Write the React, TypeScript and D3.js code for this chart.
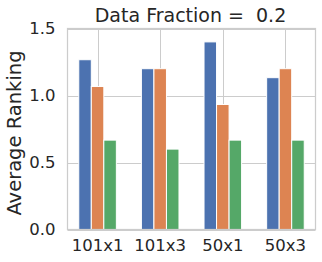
import { useEffect, useRef } from "react";
import * as d3 from "d3";

// values
const categories = ["101x1", "101x3", "50x1", "50x3"];
const seriesA = [1.267, 1.2, 1.4, 1.133];
const seriesB = [1.067, 1.2, 0.933, 1.2];
const seriesC = [0.667, 0.6, 0.667, 0.667];
const yTicks = [0, 0.5, 1.0, 1.5];
const colors = ["#4c72b0", "#dd8452", "#55a868"];

export default function App() {
  const ref = useRef<SVGSVGElement | null>(null);

  useEffect(() => {
    if (!ref.current) return;
    const svg = d3.select(ref.current);
    svg.selectAll("*").remove();
    const m = { left: 67.5, right: 315.5, top: 28.5, bottom: 229.5 };
    const textColor = "#262626";
    const font = "DejaVu Sans, sans-serif";

    // matplotlib-style numeric x: bars span -0.3..3.3, 5% margins
    const x = d3.scaleLinear().domain([-0.48, 3.48]).range([m.left, m.right]);
    const y = d3.scaleLinear().domain([0, 1.5]).range([m.bottom, m.top]);

    // grid
    const grid = svg.append("g").attr("stroke", "#cccccc").attr("stroke-width", 1);
    yTicks.forEach(t => {
      grid.append("line")
        .attr("x1", m.left).attr("x2", m.right)
        .attr("y1", Math.round(y(t)) + 0.5).attr("y2", Math.round(y(t)) + 0.5);
    });
    categories.forEach((_, i) => {
      grid.append("line")
        .attr("x1", Math.round(x(i)) + 0.5).attr("x2", Math.round(x(i)) + 0.5)
        .attr("y1", m.top).attr("y2", m.bottom);
    });

    // bars
    const series = [seriesA, seriesB, seriesC];
    const barW = 0.2;
    series.forEach((vals, s) => {
      const offset = (s - 1) * barW;
      svg.append("g")
        .selectAll("rect")
        .data(vals)
        .join("rect")
        .attr("x", (_, i) => x(i + offset - barW / 2))
        .attr("width", x(barW) - x(0))
        .attr("y", d => y(d))
        .attr("height", d => y(0) - y(d))
        .attr("fill", colors[s])
        .attr("stroke", "#ffffff")
        .attr("stroke-width", 1);
    });

    // frame
    svg.append("rect")
      .attr("x", m.left).attr("y", m.top)
      .attr("width", m.right - m.left).attr("height", m.bottom - m.top)
      .attr("fill", "none").attr("stroke", "#cccccc").attr("stroke-width", 1.25);

    // y tick labels
    svg.append("g")
      .selectAll("text")
      .data(yTicks)
      .join("text")
      .attr("x", m.left - 12)
      .attr("y", d => y(d))
      .attr("dy", "0.36em")
      .attr("text-anchor", "end")
      .attr("font-family", font)
      .attr("font-size", 16.5)
      .attr("fill", textColor)
      .text(d => d3.format(".1f")(d));

    // x tick labels
    svg.append("g")
      .selectAll("text")
      .data(categories)
      .join("text")
      .attr("x", (_, i) => x(i))
      .attr("y", 251)
      .attr("text-anchor", "middle")
      .attr("font-family", font)
      .attr("font-size", 16.5)
      .attr("fill", textColor)
      .text(d => d);

    // title
    svg.append("text")
      .attr("x", (m.left + m.right) / 2 - 1)
      .attr("y", 21.5)
      .attr("text-anchor", "middle")
      .attr("font-family", font)
      .attr("font-size", 19)
      .attr("fill", textColor)
      .style("white-space", "pre")
      .text("Data Fraction =  0.2");

    // y label
    svg.append("text")
      .attr("transform", `translate(20.7,133) rotate(-90)`)
      .attr("text-anchor", "middle")
      .attr("font-family", font)
      .attr("font-size", 19.5)
      .attr("fill", textColor)
      .text("Average Ranking");
  }, []);

  return (
    <svg
      ref={ref}
      width={322}
      height={262}
      style={{ position: "absolute", left: 0, top: 0, background: "#ffffff" }}
    />
  );
}
